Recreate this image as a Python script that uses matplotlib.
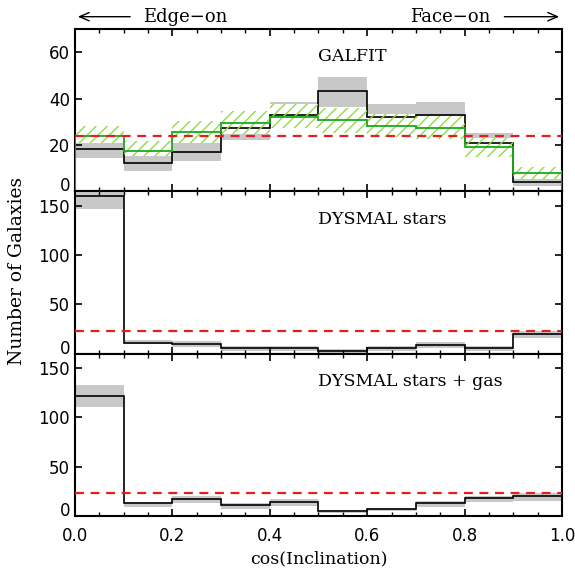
import numpy as np
import matplotlib
matplotlib.use("Agg")
import matplotlib.pyplot as plt
from matplotlib.ticker import MultipleLocator

edges = np.round(np.arange(0, 1.01, 0.1), 2)

# Panel 1: GALFIT
galfit_black = [18.2, 12.1, 17.2, 27.2, 33.1, 43.2, 32.0, 33.1, 21.0, 4.1]
galfit_black_lo = [14.2, 8.6, 12.9, 22.0, 27.2, 36.5, 26.8, 27.5, 16.7, 2.1]
galfit_black_hi = [22.0, 15.7, 21.0, 32.2, 38.7, 49.5, 37.5, 38.7, 25.3, 6.0]
galfit_green = [23.7, 17.4, 25.6, 29.3, 32.3, 30.8, 28.2, 27.3, 19.1, 7.8]
galfit_green_lo = [21.0, 15.3, 21.0, 24.6, 27.5, 25.3, 23.6, 22.5, 14.8, 5.2]
galfit_green_hi = [28.2, 21.7, 30.3, 34.6, 37.5, 36.1, 33.2, 32.5, 23.2, 10.3]

# Panel 2: DYSMAL stars
stars = [159.9, 11.2, 9.5, 5.4, 5.4, 2.7, 5.4, 8.5, 5.4, 20.0]
stars_lo = [146.6, 9.2, 7.0, 3.0, 3.0, 0.8, 3.0, 6.0, 3.0, 16.0]
stars_hi = [170.0, 14.0, 12.5, 8.0, 8.0, 4.5, 8.0, 11.5, 8.0, 23.4]

# Panel 3: DYSMAL stars + gas
gas = [121.9, 12.6, 17.0, 10.6, 13.6, 4.5, 6.5, 12.6, 17.7, 20.0]
gas_lo = [111.0, 9.2, 12.6, 7.1, 10.2, 2.4, 4.5, 9.2, 13.6, 15.3]
gas_hi = [133.1, 14.3, 20.4, 13.2, 17.0, 5.8, 8.1, 15.3, 20.4, 22.8]

uniform_levels = [24.0, 23.0, 23.5]
panel_labels = ["GALFIT", "DYSMAL stars", "DYSMAL stars + gas"]
ylims = [70, 165]
ymajor = [20, 50, 50]

GRAY = "#c8c8c8"
HATCH_GREEN = "#8fdc4a"
LINE_GREEN = "#1ea81e"
RED = "#e41e1e"

plt.rcParams["hatch.linewidth"] = 1.0
serif = "DejaVu Serif"

fig = plt.figure(figsize=(5.75, 5.69), dpi=100)
left, width, h = 0.1304, 0.847, 0.285
bottoms = [0.6637, 0.3787, 0.0937]
axes = [fig.add_axes([left, b, width, h]) for b in bottoms]

widths = np.diff(edges)
centers = edges[:-1]

def gray_band(ax, lo, hi):
    ax.bar(centers, np.array(hi) - np.array(lo), bottom=lo, width=widths,
           align="edge", color=GRAY, edgecolor="none", linewidth=0, zorder=1)

# Panel 1
ax = axes[0]
gray_band(ax, galfit_black_lo, galfit_black_hi)
ax.bar(centers, np.array(galfit_green_hi) - np.array(galfit_green_lo), bottom=galfit_green_lo,
       width=widths, align="edge", color="white", edgecolor="none", linewidth=0, zorder=2)
ax.stairs(galfit_black, edges, baseline=0, color="black", linewidth=1.2, zorder=3)
ax.bar(centers, np.array(galfit_green_hi) - np.array(galfit_green_lo), bottom=galfit_green_lo,
       width=widths, align="edge", fill=False, hatch="///", edgecolor=HATCH_GREEN,
       linewidth=0, zorder=4)
ax.stairs(galfit_green, edges, baseline=0, color=LINE_GREEN, linewidth=1.3, zorder=5)

# Panel 2
ax = axes[1]
gray_band(ax, stars_lo, stars_hi)
ax.stairs(stars, edges, baseline=0, color="black", linewidth=1.2, zorder=3)

# Panel 3
ax = axes[2]
gray_band(ax, gas_lo, gas_hi)
ax.stairs(gas, edges, baseline=0, color="black", linewidth=1.2, zorder=3)

label_y = [58.3, 136.5, 136.5]
for i, ax in enumerate(axes):
    ax.axhline(uniform_levels[i], color=RED, linestyle=(0, (4, 3)), linewidth=1.6, zorder=6)
    ax.set_xlim(0, 1)
    ax.set_ylim(0, ylims[0] if i == 0 else ylims[1])
    ax.xaxis.set_major_locator(MultipleLocator(0.2))
    ax.xaxis.set_minor_locator(MultipleLocator(0.05))
    ax.yaxis.set_major_locator(MultipleLocator(ymajor[i]))
    ax.tick_params(which="both", direction="in", top=True, right=True, labelsize=12)
    ax.tick_params(which="major", length=5, width=1.2)
    ax.tick_params(which="minor", length=3, width=1.0)
    ax.tick_params(axis="x", pad=8)
    for s in ax.spines.values():
        s.set_linewidth(1.5)
    ax.text(0.5, label_y[i], panel_labels[i], fontsize=12.5, family=serif,
            ha="left", va="center", zorder=7)
    if i < 2:
        ax.tick_params(labelbottom=False)

fig.canvas.draw()
for ax in axes:
    for t in ax.get_yticklabels():
        if t.get_position()[1] == 0:
            t.set_va("baseline")

axes[2].set_xlabel("cos(Inclination)", fontsize=12.5, family=serif, labelpad=4)
fig.text(0.0304, 0.5246, "Number of Galaxies", rotation=90, fontsize=13.5, family=serif,
         ha="center", va="center")

ax = axes[0]
ty = 1.077
ax.annotate("", xy=(0.0, ty), xytext=(0.119, ty), xycoords="axes fraction",
            arrowprops=dict(arrowstyle="->,head_length=0.7,head_width=0.3", color="black", lw=1.0),
            annotation_clip=False)
ax.annotate("", xy=(1.0, ty), xytext=(0.876, ty), xycoords="axes fraction",
            arrowprops=dict(arrowstyle="->,head_length=0.7,head_width=0.3", color="black", lw=1.0),
            annotation_clip=False)
ax.text(0.2266, ty, "Edge\u2212on", transform=ax.transAxes, fontsize=13, family=serif,
        ha="center", va="center")
ax.text(0.771, ty, "Face\u2212on", transform=ax.transAxes, fontsize=13, family=serif,
        ha="center", va="center")

fig.savefig("out.png", dpi=100)
